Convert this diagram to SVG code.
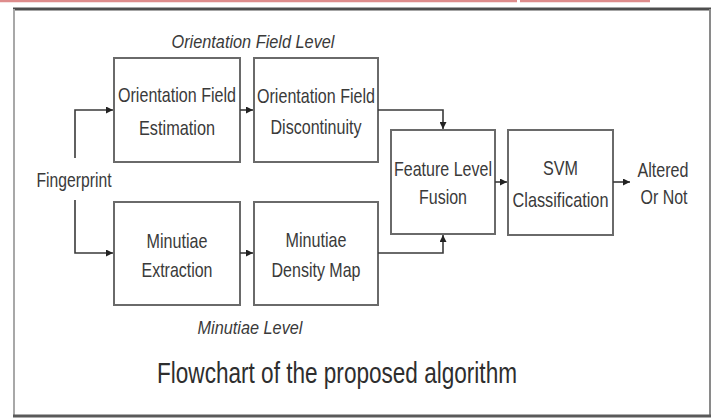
<svg xmlns="http://www.w3.org/2000/svg" width="718" height="419" viewBox="0 0 718 419">
  <style>
    .box { fill: #ffffff; stroke: #6a6a6a; stroke-width: 2; }
    .lbl { font-family: "Liberation Sans", Arial, sans-serif; font-size: 21px; fill: #3a3a3a; text-anchor: middle; }
    .lvl { font-family: "Liberation Sans", Arial, sans-serif; font-size: 18px; font-style: italic; fill: #3a3a3a; text-anchor: middle; }
    .cap { font-family: "Liberation Sans", Arial, sans-serif; font-size: 29px; fill: #2e2e2e; text-anchor: middle; }
    .wire { fill: none; stroke: #3a3a3a; stroke-width: 1.6; }
  </style>
  <defs>
    <marker id="arrow" viewBox="0 0 10 10" refX="10" refY="5" markerWidth="7" markerHeight="7" markerUnits="userSpaceOnUse" orient="auto">
      <path d="M0,0 L10,5 L0,10 z" fill="#222222"/>
    </marker>
  </defs>

  <rect x="0" y="0" width="718" height="419" fill="#ffffff"/>

  <!-- pink rule along the top edge -->
  <line x1="0" y1="1" x2="517" y2="1" stroke="#de8c8c" stroke-width="2.5"/>
  <line x1="520" y1="1" x2="650" y2="1" stroke="#de8c8c" stroke-width="2.5"/>

  <!-- outer frame -->
  <g id="frame">
    <line x1="13" y1="9" x2="711" y2="9" stroke="#4e4e4e" stroke-width="3"/>
    <line x1="14" y1="9" x2="14" y2="416" stroke="#a8a8a8" stroke-width="2"/>
    <line x1="710" y1="9" x2="710" y2="416" stroke="#8a8a8a" stroke-width="2"/>
    <line x1="13" y1="416" x2="711" y2="416" stroke="#5a5a5a" stroke-width="3"/>
  </g>

  <!-- level captions -->
  <text class="lvl" x="253" y="48" textLength="163" lengthAdjust="spacingAndGlyphs">Orientation Field Level</text>
  <text class="lvl" x="250" y="334" textLength="105" lengthAdjust="spacingAndGlyphs">Minutiae Level</text>

  <g id="fingerprint">
    <text class="lbl" x="74" y="187" textLength="75" lengthAdjust="spacingAndGlyphs">Fingerprint</text>
  </g>

  <g id="of-estimation">
    <rect class="box" x="114" y="58" width="126" height="104"/>
    <text class="lbl" x="177" y="102" textLength="118" lengthAdjust="spacingAndGlyphs">Orientation Field</text>
    <text class="lbl" x="177" y="135" textLength="76" lengthAdjust="spacingAndGlyphs">Estimation</text>
  </g>

  <g id="of-discontinuity">
    <rect class="box" x="254" y="58" width="124" height="104"/>
    <text class="lbl" x="316" y="103" textLength="118" lengthAdjust="spacingAndGlyphs">Orientation Field</text>
    <text class="lbl" x="316" y="134" textLength="91" lengthAdjust="spacingAndGlyphs">Discontinuity</text>
  </g>

  <g id="minutiae-extraction">
    <rect class="box" x="114" y="202" width="126" height="103"/>
    <text class="lbl" x="177" y="248" textLength="61" lengthAdjust="spacingAndGlyphs">Minutiae</text>
    <text class="lbl" x="177" y="277" textLength="71" lengthAdjust="spacingAndGlyphs">Extraction</text>
  </g>

  <g id="minutiae-density">
    <rect class="box" x="254" y="202" width="124" height="103"/>
    <text class="lbl" x="316" y="247" textLength="61" lengthAdjust="spacingAndGlyphs">Minutiae</text>
    <text class="lbl" x="316" y="277" textLength="89" lengthAdjust="spacingAndGlyphs">Density Map</text>
  </g>

  <g id="fusion">
    <rect class="box" x="391" y="130" width="104" height="104"/>
    <text class="lbl" x="443" y="176" textLength="98" lengthAdjust="spacingAndGlyphs">Feature Level</text>
    <text class="lbl" x="443" y="204" textLength="48" lengthAdjust="spacingAndGlyphs">Fusion</text>
  </g>

  <g id="svm">
    <rect class="box" x="508" y="130" width="105" height="105"/>
    <text class="lbl" x="560.5" y="175" textLength="35" lengthAdjust="spacingAndGlyphs">SVM</text>
    <text class="lbl" x="560.5" y="207" textLength="96" lengthAdjust="spacingAndGlyphs">Classification</text>
  </g>

  <g id="output">
    <text class="lbl" x="663" y="177" textLength="51" lengthAdjust="spacingAndGlyphs">Altered</text>
    <text class="lbl" x="664" y="204" textLength="47" lengthAdjust="spacingAndGlyphs">Or Not</text>
  </g>

  <g id="connectors">
    <polyline class="wire" points="75,158 75,110 113,110" marker-end="url(#arrow)"/>
    <polyline class="wire" points="75,200 75,253 113,253" marker-end="url(#arrow)"/>
    <line class="wire" x1="240" y1="110" x2="253" y2="110" marker-end="url(#arrow)"/>
    <line class="wire" x1="240" y1="253" x2="253" y2="253" marker-end="url(#arrow)"/>
    <polyline class="wire" points="378,110 443,110 443,129" marker-end="url(#arrow)"/>
    <polyline class="wire" points="378,253 443,253 443,235" marker-end="url(#arrow)"/>
    <line class="wire" x1="495" y1="182" x2="507" y2="182" marker-end="url(#arrow)"/>
    <line class="wire" x1="613" y1="182" x2="630" y2="182" marker-end="url(#arrow)"/>
  </g>

  <text class="cap" x="337" y="383" textLength="360" lengthAdjust="spacingAndGlyphs">Flowchart of the proposed algorithm</text>
</svg>
